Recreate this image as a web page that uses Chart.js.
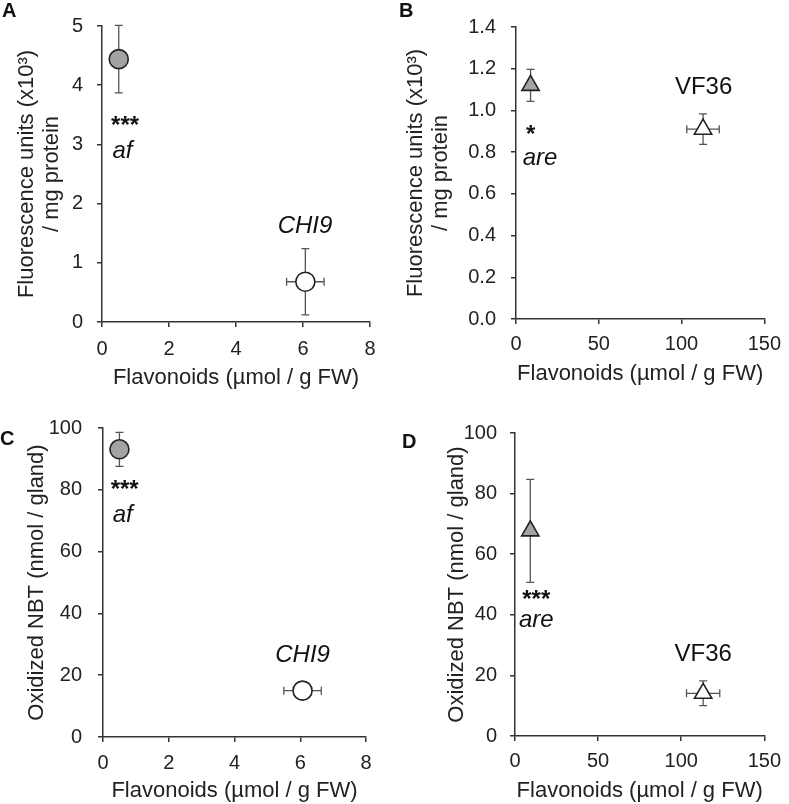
<!DOCTYPE html>
<html>
<head>
<meta charset="utf-8">
<script src="https://cdn.jsdelivr.net/npm/chart.js@4.4.0/dist/chart.umd.min.js"></script>
<style>
  body { margin: 0; background: #fff; width: 789px; height: 804px; position: relative; overflow: hidden; font-family: "Liberation Sans", Arial, sans-serif; }
  .panel { position: absolute; }
  .tag { position: absolute; font-weight: bold; font-size: 20px; line-height: 20px; color: #111; }
</style>
</head>
<body>
<div class="panel" style="left:0;top:0"><canvas id="chartA" width="389" height="400"></canvas></div>
<div class="panel" style="left:389px;top:0"><canvas id="chartB" width="400" height="400"></canvas></div>
<div class="panel" style="left:0;top:400px"><canvas id="chartC" width="389" height="404"></canvas></div>
<div class="panel" style="left:389px;top:400px"><canvas id="chartD" width="400" height="404"></canvas></div>
<div class="tag" style="left:2px;top:0">A</div>
<div class="tag" style="left:399px;top:0">B</div>
<div class="tag" style="left:0;top:428px">C</div>
<div class="tag" style="left:402px;top:431px">D</div>

<script>
// mutant first, wild type second
// A: af vs CHI9, fluorescence
const flavA = [0.5, 6.07];
const flavErrA = [0, 0.56];
const fluorA = [4.44, 0.68];
const fluorErrA = [0.57, 0.56];

// B: are vs VF36, fluorescence
const flavB = [8.8, 113];
const flavErrB = [0, 9.8];
const fluorB = [1.12, 0.91];
const fluorErrB = [0.077, 0.073];

// C: af vs CHI9, oxidized NBT
const flavC = [0.5, 6.07];
const flavErrC = [0, 0.57];
const nbtC = [93.1, 15.0];
const nbtErrC = [5.5, 1.0];

// D: are vs VF36, oxidized NBT
const flavD = [9.2, 113.2];
const flavErrD = [0, 10];
const nbtD = [67.7, 14.1];
const nbtErrD = [17, 4.1];

// text next to the points, anchored in data units
const notesA = [['***', 0.69, 3.31, 'bold'], ['af', 0.61, 2.88, 'italic'], ['CHI9', 6.06, 1.61, 'italic']];
const notesB = [['*', 8.85, 0.881, 'bold'], ['are', 14.5, 0.771, 'italic'], ['VF36', 113.3, 1.111, '']];
const notesC = [['***', 0.66, 79.7, 'bold'], ['af', 0.60, 71.7, 'italic'], ['CHI9', 6.07, 26.4, 'italic']];
const notesD = [['***', 12.8, 44.7, 'bold'], ['are', 12.8, 38.3, 'italic'], ['VF36', 113.2, 26.8, '']];

const FONT = '"Liberation Sans", Arial, sans-serif';
const INK = '#222';

const errorBars = {
  id: 'errorBars',
  beforeDatasetsDraw(chart) {
    const ctx = chart.ctx;
    const xs = chart.scales.x, ys = chart.scales.y;
    const cap = 4;
    ctx.save();
    ctx.strokeStyle = '#555';
    ctx.lineWidth = 1.3;
    chart.data.datasets[0].data.forEach(p => {
      const px = xs.getPixelForValue(p.x), py = ys.getPixelForValue(p.y);
      ctx.beginPath();
      if (p.yErr) {
        const t = ys.getPixelForValue(p.y + p.yErr), b = ys.getPixelForValue(p.y - p.yErr);
        ctx.moveTo(px, t); ctx.lineTo(px, b);
        ctx.moveTo(px - cap, t); ctx.lineTo(px + cap, t);
        ctx.moveTo(px - cap, b); ctx.lineTo(px + cap, b);
      }
      if (p.xErr) {
        const l = xs.getPixelForValue(p.x - p.xErr), r = xs.getPixelForValue(p.x + p.xErr);
        ctx.moveTo(l, py); ctx.lineTo(r, py);
        ctx.moveTo(l, py - cap); ctx.lineTo(l, py + cap);
        ctx.moveTo(r, py - cap); ctx.lineTo(r, py + cap);
      }
      ctx.stroke();
    });
    ctx.restore();
  }
};

const notes = {
  id: 'notes',
  afterDatasetsDraw(chart, args, opts) {
    const ctx = chart.ctx;
    ctx.save();
    ctx.fillStyle = '#111';
    ctx.textAlign = 'center';
    ctx.textBaseline = 'middle';
    (opts.items || []).forEach(([text, x, y, style]) => {
      ctx.font = style + ' 24px ' + FONT;
      ctx.fillText(text, chart.scales.x.getPixelForValue(x), chart.scales.y.getPixelForValue(y));
    });
    ctx.restore();
  }
};

function axis(min, max, step, opts) {
  return {
    type: 'linear', min: min, max: max,
    ticks: { stepSize: step, padding: opts.tickPad, color: INK, font: { family: FONT, size: 20 }, callback: opts.fmt || (v => v) },
    grid: { drawOnChartArea: false, drawTicks: true, tickLength: 5, color: '#333', lineWidth: 1.5 },
    border: { display: true, color: '#333', width: 1.5 },
    title: { display: true, text: opts.title, color: INK, font: { family: FONT, size: 22, lineHeight: 1.15 }, padding: opts.titlePad },
    afterFit: opts.fit
  };
}

function makePanel(id, c) {
  const points = c.xs.map((x, i) => ({ x: x, y: c.ys[i], xErr: c.xErr[i], yErr: c.yErr[i] }));
  const r = c.shape === 'triangle' ? 10 : 9.5;
  new Chart(document.getElementById(id), {
    type: 'scatter',
    data: {
      datasets: [{
        data: points,
        pointStyle: c.shape,
        pointRadius: r,
        pointHoverRadius: r,
        backgroundColor: ['#a3a3a3', '#ffffff'],
        borderColor: INK,
        borderWidth: 1.6
      }]
    },
    options: {
      responsive: false,
      animation: false,
      events: [],
      layout: { padding: { top: c.top, right: c.right, bottom: 0, left: 0 } },
      plugins: { legend: { display: false }, tooltip: { enabled: false }, notes: { items: c.notes } },
      scales: {
        x: axis(c.xMin, c.xMax, c.xStep, { title: 'Flavonoids (µmol / g FW)', tickPad: c.xTickPad, titlePad: { top: 0, bottom: c.xTitlePad }, fit: s => { s.height = c.xHeight; } }),
        y: axis(c.yMin, c.yMax, c.yStep, { title: c.yTitle, tickPad: c.yTickPad, titlePad: { top: c.yTitlePad, bottom: 0 }, fmt: c.yFmt, fit: s => { s.width = c.yWidth; } })
      }
    },
    plugins: [errorBars, notes]
  });
}

const fluorTitle = ['Fluorescence units (x10³)', '/ mg protein'];
const nbtTitle = 'Oxidized NBT (nmol / gland)';

makePanel('chartA', { xs: flavA, ys: fluorA, xErr: flavErrA, yErr: fluorErrA, shape: 'circle', notes: notesA,
  xMin: 0, xMax: 8, xStep: 2, yMin: 0, yMax: 5, yStep: 1, yTitle: fluorTitle,
  top: 21, right: 19, xHeight: 78, yWidth: 102, xTickPad: 10, yTickPad: 14, xTitlePad: 9, yTitlePad: 14 });

makePanel('chartB', { xs: flavB, ys: fluorB, xErr: flavErrB, yErr: fluorErrB, shape: 'triangle', notes: notesB,
  xMin: 0, xMax: 150, xStep: 50, yMin: 0, yMax: 1.4, yStep: 0.2, yTitle: fluorTitle, yFmt: v => v.toFixed(1),
  top: 24, right: 19, xHeight: 81, yWidth: 127, xTickPad: 8, yTickPad: 15, xTitlePad: 13, yTitlePad: 14 });

makePanel('chartC', { xs: flavC, ys: nbtC, xErr: flavErrC, yErr: nbtErrC, shape: 'circle', notes: notesC,
  xMin: 0, xMax: 8, xStep: 2, yMin: 0, yMax: 100, yStep: 20, yTitle: nbtTitle,
  top: 28, right: 23, xHeight: 67, yWidth: 103, xTickPad: 9, yTickPad: 16, xTitlePad: 0, yTitlePad: 24 });

makePanel('chartD', { xs: flavD, ys: nbtD, xErr: flavErrD, yErr: nbtErrD, shape: 'triangle', notes: notesD,
  xMin: 0, xMax: 150, xStep: 50, yMin: 0, yMax: 100, yStep: 20, yTitle: nbtTitle,
  top: 33, right: 18, xHeight: 68, yWidth: 126, xTickPad: 8, yTickPad: 13, xTitlePad: 0, yTitlePad: 55 });
</script>
</body>
</html>
